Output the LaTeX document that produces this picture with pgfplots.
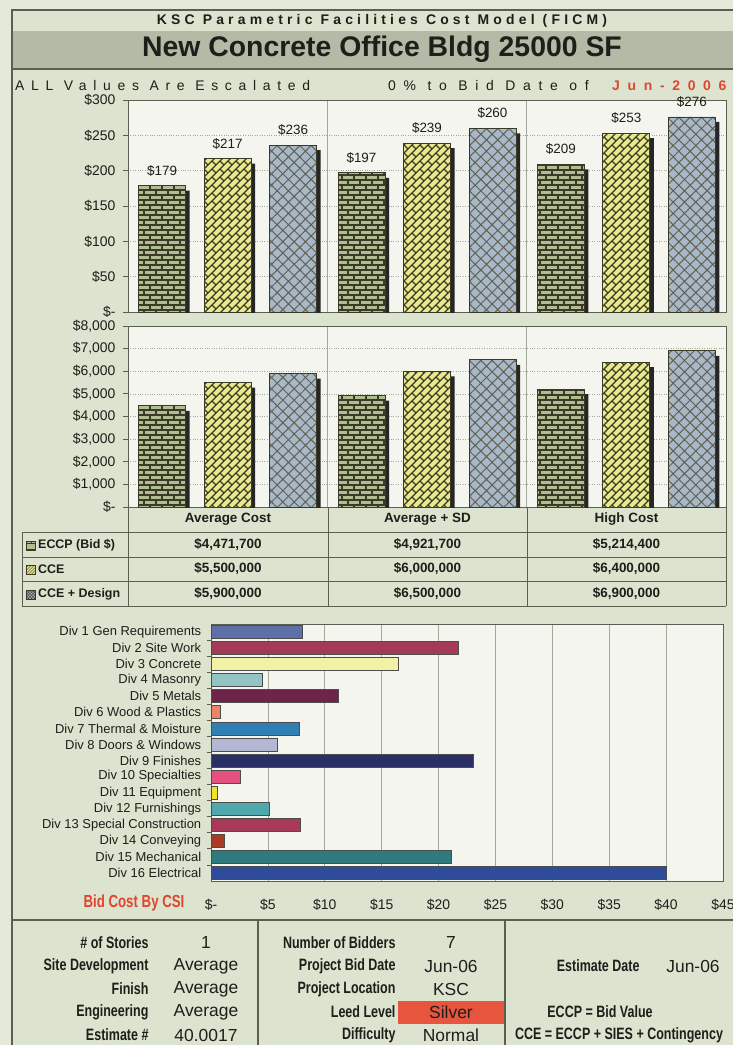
\documentclass[border=0pt]{standalone}
\usepackage{fontspec}
\setmainfont{Liberation Sans}
\newfontfamily\spaced[LetterSpace=55]{Liberation Sans}
\newfontfamily\spacedall[LetterSpace=48]{Liberation Sans}
\newfontfamily\spacedb[LetterSpace=30]{Liberation Sans}
\usepackage{graphicx}
\usepackage{pgfplots}
\pgfplotsset{compat=1.18}
\usepackage{pgfplotstable}
\usetikzlibrary{patterns,patterns.meta}

\definecolor{pagebg}{HTML}{E4E9DA}
\definecolor{boxbg}{HTML}{DCE3CF}
\definecolor{band}{HTML}{B3BBA6}
\definecolor{plotbg}{HTML}{F4F5EF}
\definecolor{frame}{HTML}{5A5F50}
\definecolor{gridc}{HTML}{A4A89A}
\definecolor{ink}{HTML}{1E1E1A}
\definecolor{eccp}{HTML}{AEBE90}
\definecolor{cce}{HTML}{E8E88C}
\definecolor{ccd}{HTML}{A8B8C8}
\definecolor{hatch}{HTML}{3A3A26}
\definecolor{redtxt}{HTML}{E0452E}
\definecolor{silver}{HTML}{E8553E}
\definecolor{c1}{HTML}{5F6FA8}
\definecolor{c2}{HTML}{A33A58}
\definecolor{c3}{HTML}{F2F2A6}
\definecolor{c4}{HTML}{93C4C4}
\definecolor{c5}{HTML}{6E2349}
\definecolor{c6}{HTML}{E88566}
\definecolor{c7}{HTML}{2F7FB4}
\definecolor{c8}{HTML}{B4B8D4}
\definecolor{c9}{HTML}{2A2F66}
\definecolor{c10}{HTML}{E6507E}
\definecolor{c11}{HTML}{F0E428}
\definecolor{c12}{HTML}{4FA8AC}
\definecolor{c13}{HTML}{A83A58}
\definecolor{c14}{HTML}{A83A26}
\definecolor{c15}{HTML}{2F7A7C}
\definecolor{c16}{HTML}{2F4C9C}

\pgfdeclarepatternformonly{BigBricks}{\pgfqpoint{-1bp}{-1bp}}{\pgfqpoint{13bp}{11bp}}{\pgfqpoint{12bp}{10bp}}{%
  \pgfsetlinewidth{1.3bp}%
  \pgfpathmoveto{\pgfqpoint{0bp}{0bp}}\pgfpathlineto{\pgfqpoint{12bp}{0bp}}%
  \pgfpathmoveto{\pgfqpoint{0bp}{5bp}}\pgfpathlineto{\pgfqpoint{12bp}{5bp}}%
  \pgfpathmoveto{\pgfqpoint{0bp}{0bp}}\pgfpathlineto{\pgfqpoint{0bp}{5bp}}%
  \pgfpathmoveto{\pgfqpoint{6bp}{5bp}}\pgfpathlineto{\pgfqpoint{6bp}{10bp}}%
  \pgfusepath{stroke}}
\pgfdeclarepatternformonly{DiagBricks}{\pgfqpoint{-1bp}{-1bp}}{\pgfqpoint{9bp}{9bp}}{\pgfqpoint{8bp}{8bp}}{%
  \pgfsetlinewidth{1.2bp}%
  \pgfpathmoveto{\pgfqpoint{0bp}{0bp}}\pgfpathlineto{\pgfqpoint{8bp}{8bp}}%
  \pgfpathmoveto{\pgfqpoint{4bp}{4bp}}\pgfpathlineto{\pgfqpoint{8bp}{0bp}}%
  \pgfusepath{stroke}}

\pgfplotstableread{
c a b d
0 179 217 236
1 197 239 260
2 209 253 276
}\sfdata
\pgfplotstableread{
c a b d
0 4471.7 5500 5900
1 4921.7 6000 6500
2 5214.4 6400 6900
}\totdata

\newcommand{\cond}[2][16.5]{\scalebox{0.76}[1]{\fontsize{#1}{#1}\selectfont\bfseries #2}}

\pgfplotsset{
  twochart/.style={
    scale only axis, width=598bp,
    xmin=-0.5, xmax=2.5, ymin=0,
    xtick={0.5,1.5}, xticklabels={}, xmajorgrids, ymajorgrids,
    major x grid style={draw=gridc, line width=0.8bp},
    major y grid style={draw=gridc, dotted, line width=0.7bp},
    x tick style={draw=none}, y tick style={draw=frame, line width=0.8bp},
    tick align=outside, major tick length=5bp, ytick pos=left,
    axis line style={draw=frame, line width=1bp},
    axis background/.style={fill=plotbg},
    tick label style={font=\fontsize{14}{14}\selectfont, text=ink},
    yticklabel style={xshift=-4bp},
    ybar, bar width=47bp,
    /pgf/number format/assume math mode=true,
  },
  shadowbar/.style={fill=black!85, draw=none, yshift=-5bp},
  eccpbar/.style={fill=eccp, draw=hatch, line width=0.9bp, postaction={pattern=BigBricks, pattern color=hatch}},
  ccebar/.style={fill=cce, draw=hatch, line width=0.9bp, postaction={pattern=DiagBricks, pattern color=hatch}},
  ccdbar/.style={fill=ccd, draw=hatch, line width=0.9bp, postaction={pattern={Hatch[angle=45,distance=8bp,line width=1bp]}, pattern color=hatch!80}},
  vlabel/.style={draw=none, fill=none, nodes near coords={\$\pgfmathprintnumber{\pgfplotspointmeta}},
    every node near coord/.append style={font=\fontsize{13.5}{13.5}\selectfont, text=ink, yshift=6bp}},
  csi/.style={draw=black!70, line width=0.8bp, bar shift=0pt},
}

\begin{document}
\begin{tikzpicture}
\useasboundingbox (0,0) rectangle (733bp,-1045bp);
\begin{scope}[x=1bp,y=-1bp]
  \fill[pagebg] (0,0) rectangle (733,1045);
  \fill[boxbg] (12,10) rectangle (745,1050);
  \fill[band] (12,31) rectangle (745,68);
  \draw[frame, line width=1.2bp] (745,10) -- (12,10) -- (12,1050);
  \draw[frame, line width=1.2bp] (12,69) -- (745,69);
  \node[text=ink, font=\spacedb\bfseries\fontsize{14}{14}\selectfont] at (382,21) {KSC Parametric Facilities Cost Model (FICM)};
  \node[text=ink, font=\bfseries\fontsize{28.5}{28.5}\selectfont] at (382,49) {New Concrete Office Bldg 25000 SF};
  \node[anchor=west, inner sep=0, text=ink, font=\spacedall\fontsize{14}{14}\selectfont] at (15,86) {ALL Values Are Escalated};
  \node[anchor=west, inner sep=0, text=ink, font=\spaced\fontsize{14}{14}\selectfont] at (388,86) {0\% to Bid Date of};
  \node[anchor=west, inner sep=0, text=redtxt, font=\spaced\bfseries\fontsize{14}{14}\selectfont] at (612,86) {Jun-2006};
\end{scope}

% ---- Cost per SF chart
\begin{axis}[twochart, at={(128bp,-312bp)}, anchor=south west, height=212bp,
  ymax=300, ytick={0,50,...,300}, yticklabels={\$-,\$50,\$100,\$150,\$200,\$250,\$300}]
  \addplot[shadowbar, bar shift=-61.5bp] table[x=c,y=a]{\sfdata};
  \addplot[shadowbar, bar shift=4bp] table[x=c,y=b]{\sfdata};
  \addplot[shadowbar, bar shift=69.5bp] table[x=c,y=d]{\sfdata};
  \addplot[eccpbar, bar shift=-65.5bp] table[x=c,y=a]{\sfdata};
  \addplot[ccebar, bar shift=0bp] table[x=c,y=b]{\sfdata};
  \addplot[ccdbar, bar shift=65.5bp] table[x=c,y=d]{\sfdata};
  \addplot[vlabel, bar shift=-65.5bp] table[x=c,y=a]{\sfdata};
  \addplot[vlabel, bar shift=0bp] table[x=c,y=b]{\sfdata};
  \addplot[vlabel, bar shift=65.5bp] table[x=c,y=d]{\sfdata};
\end{axis}

% ---- Total cost chart (thousands)
\begin{axis}[twochart, at={(128bp,-507bp)}, anchor=south west, height=181bp,
  ymax=8000, ytick={0,1000,...,8000},
  yticklabels={\$-,{\$1,000},{\$2,000},{\$3,000},{\$4,000},{\$5,000},{\$6,000},{\$7,000},{\$8,000}}]
  \addplot[shadowbar, bar shift=-61.5bp] table[x=c,y=a]{\totdata};
  \addplot[shadowbar, bar shift=4bp] table[x=c,y=b]{\totdata};
  \addplot[shadowbar, bar shift=69.5bp] table[x=c,y=d]{\totdata};
  \addplot[eccpbar, bar shift=-65.5bp] table[x=c,y=a]{\totdata};
  \addplot[ccebar, bar shift=0bp] table[x=c,y=b]{\totdata};
  \addplot[ccdbar, bar shift=65.5bp] table[x=c,y=d]{\totdata};
\end{axis}

% ---- Bid cost by CSI
\begin{axis}[at={(211bp,-881bp)}, anchor=south west, scale only axis, width=512bp, height=257bp,
  xbar, bar width=13bp, xmin=0, xmax=45, ymin=0.5, ymax=16.5, y dir=reverse,
  ytick={1,...,16},
  yticklabels={Div 1 Gen Requirements, Div 2 Site Work, Div 3 Concrete, Div 4 Masonry, Div 5 Metals,
    Div 6 Wood \& Plastics, Div 7 Thermal \& Moisture, Div 8 Doors \& Windows, Div 9 Finishes,
    Div 10 Specialties, Div 11 Equipment, Div 12 Furnishings, Div 13 Special Construction,
    Div 14 Conveying, Div 15 Mechanical, Div 16 Electrical},
  minor ytick={1.5,2.5,...,15.5}, major y tick style={draw=none},
  minor y tick style={draw=frame, line width=0.8bp}, minor tick length=4bp, tick align=outside, ytick pos=left,
  xtick={0,5,...,45}, xticklabels={\$-,\$5,\$10,\$15,\$20,\$25,\$30,\$35,\$40,\$45},
  x tick style={draw=none}, xmajorgrids, major x grid style={draw=gridc, line width=0.7bp},
  axis line style={draw=frame, line width=1bp},
  axis background/.style={fill=plotbg},
  yticklabel style={font=\fontsize{13}{13}\selectfont, text=ink, xshift=-2bp},
  xticklabel style={font=\fontsize{14}{14}\selectfont, text=ink, yshift=-10bp},
]
  \addplot[csi, fill=c1] coordinates {(8.0,1)};
  \addplot[csi, fill=c2] coordinates {(21.7,2)};
  \addplot[csi, fill=c3] coordinates {(16.5,3)};
  \addplot[csi, fill=c4] coordinates {(4.5,4)};
  \addplot[csi, fill=c5] coordinates {(11.2,5)};
  \addplot[csi, fill=c6] coordinates {(0.8,6)};
  \addplot[csi, fill=c7] coordinates {(7.8,7)};
  \addplot[csi, fill=c8] coordinates {(5.8,8)};
  \addplot[csi, fill=c9] coordinates {(23.1,9)};
  \addplot[csi, fill=c10] coordinates {(2.6,10)};
  \addplot[csi, fill=c11] coordinates {(0.6,11)};
  \addplot[csi, fill=c12] coordinates {(5.1,12)};
  \addplot[csi, fill=c13] coordinates {(7.9,13)};
  \addplot[csi, fill=c14] coordinates {(1.2,14)};
  \addplot[csi, fill=c15] coordinates {(21.1,15)};
  \addplot[csi, fill=c16] coordinates {(40.0,16)};
\end{axis}

\begin{scope}[x=1bp,y=-1bp]
  % data table
  \begin{scope}[frame, line width=0.9bp]
    \draw (128,507) -- (128,606); \draw (328,507) -- (328,606);
    \draw (527,507) -- (527,606); \draw (726,507) -- (726,606);
    \draw (22,532) -- (726,532); \draw (22,557) -- (726,557);
    \draw (22,581) -- (726,581); \draw (22,606) -- (726,606);
    \draw (22,532) -- (22,606);
  \end{scope}
  \begin{scope}[every node/.style={text=ink, font=\bfseries\fontsize{13.5}{13.5}\selectfont}]
    \node at (228,519) {Average Cost};
    \node at (427.5,519) {Average + SD};
    \node at (626.5,519) {High Cost};
    \node at (228,545) {\$4,471,700}; \node at (427.5,545) {\$4,921,700}; \node at (626.5,545) {\$5,214,400};
    \node at (228,569) {\$5,500,000}; \node at (427.5,569) {\$6,000,000}; \node at (626.5,569) {\$6,400,000};
    \node at (228,594) {\$5,900,000}; \node at (427.5,594) {\$6,500,000}; \node at (626.5,594) {\$6,900,000};
  \end{scope}
  \begin{scope}[every node/.style={text=ink, font=\bfseries\fontsize{12.5}{12.5}\selectfont}]
    \node[anchor=west, inner sep=0] at (38,545) {ECCP (Bid \$)};
    \node[anchor=west, inner sep=0] at (38,569) {CCE};
    \node[anchor=west, inner sep=0] at (38,594) {CCE + Design};
  \end{scope}
  \draw[fill=eccp, draw=hatch, line width=0.8bp, postaction={pattern=bricks, pattern color=hatch}] (26,541) rectangle (35,550);
  \draw[fill=cce, draw=hatch, line width=0.8bp, postaction={pattern=north east lines, pattern color=hatch}] (26,565) rectangle (35,574);
  \draw[fill=ccd, draw=hatch, line width=0.8bp, postaction={pattern=crosshatch, pattern color=hatch}] (26,590) rectangle (35,599);

  % Bid cost label
  \node[text=redtxt] at (134,903) {\cond[17.5]{Bid Cost By CSI}};

  % bottom info table
  \fill[silver] (398,1001) rectangle (504,1024);
  \draw[frame, line width=1.2bp] (12,920) -- (745,920);
  \draw[frame, line width=1.2bp] (258,920) -- (258,1050);
  \draw[frame, line width=1.2bp] (505,920) -- (505,1050);
  \begin{scope}[every node/.style={text=ink}]
    \node[anchor=east] at (152,943) {\cond{\# of Stories}};
    \node[anchor=east] at (152,966) {\cond{Site Development}};
    \node[anchor=east] at (152,989) {\cond{Finish}};
    \node[anchor=east] at (152,1012) {\cond{Engineering}};
    \node[anchor=east] at (152,1035) {\cond{Estimate \#}};
    \node[anchor=east] at (399,943) {\cond{Number of Bidders}};
    \node[anchor=east] at (399,966) {\cond{Project Bid Date}};
    \node[anchor=east] at (399,989) {\cond{Project Location}};
    \node[anchor=east] at (399,1012) {\cond{Leed Level}};
    \node[anchor=east] at (399,1035) {\cond{Difficulty}};
    \node[anchor=east] at (643,966) {\cond{Estimate Date}};
    \node at (600,1012) {\cond{ECCP = Bid Value}};
    \node at (619,1035) {\cond{CCE = ECCP + SIES + Contingency}};
  \end{scope}
  \begin{scope}[every node/.style={text=ink, font=\fontsize{17.5}{17.5}\selectfont}]
    \node at (206,943) {1};
    \node at (206,966) {Average};
    \node at (206,989) {Average};
    \node at (206,1012) {Average};
    \node at (206,1035) {40.0017};
    \node at (451,943) {7};
    \node at (451,966) {Jun-06};
    \node at (451,989) {KSC};
    \node at (451,1012) {Silver};
    \node at (451,1035) {Normal};
    \node at (693,966) {Jun-06};
  \end{scope}
\end{scope}
\end{tikzpicture}
\end{document}
